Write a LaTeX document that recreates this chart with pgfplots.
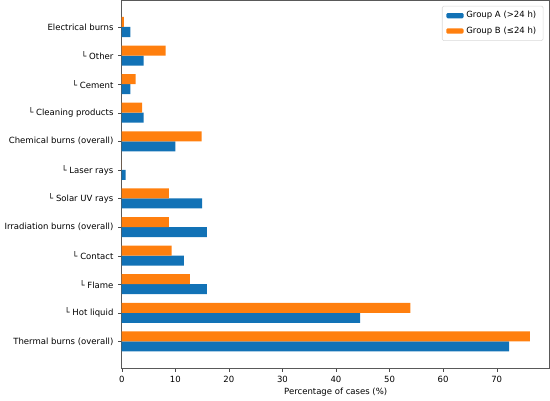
\documentclass[border=0pt]{standalone}
\usepackage{fontspec}
\setmainfont{DejaVu Sans}
\usepackage{pgfplots}
\pgfplotsset{compat=1.18}
\definecolor{cA}{RGB}{18,114,182}
\definecolor{cB}{RGB}{255,127,14}
\begin{document}
\begin{tikzpicture}
\begin{axis}[
  scale only axis,
  width=316.5pt, height=272pt,
  xbar, bar width=0.35,
  xmin=0, xmax=79.9,
  ymin=-0.935, ymax=11.935,
  ytick={0,...,11},
  yticklabels={Thermal burns (overall),{└ Hot liquid},{└ Flame},{└ Contact},Irradiation burns (overall),{└ Solar UV rays},{└ Laser rays},Chemical burns (overall),{└ Cleaning products},{└ Cement},{└ Other},Electrical burns},
  xtick={0,10,...,70},
  xtick pos=bottom, ytick pos=left,
  tick align=outside,
  major tick length=2.6pt,
  tick style={black!70},
  axis line style={black!65},
  xlabel={Percentage of cases (\%)},
  xlabel style={yshift=3pt},
  font=\fontsize{6.3}{7.5}\selectfont,
  ticklabel style={font=\fontsize{6.3}{7.5}\selectfont},
  /pgf/number format/assume math mode=true,
  legend style={at={(0.985,0.985)},anchor=north east,draw=black!15,rounded corners=1pt,font=\fontsize{6.3}{7.5}\selectfont,row sep=1pt},
  legend cell align=left,
  legend image code/.code={\path[#1,draw=none] (0cm,-0.07cm) rectangle (0.45cm,0.07cm);},
]
\addplot[fill=cA,draw=none,bar shift=-0.175] coordinates {
(72.3,0) (44.5,1) (15.9,2) (11.6,3) (15.9,4) (15.0,5) (0.75,6) (10.0,7) (4.1,8) (1.6,9) (4.1,10) (1.6,11)};
\addlegendentry{Group A (>24 h)}
\addplot[fill=cB,draw=none,bar shift=0.175] coordinates {
(76.2,0) (53.9,1) (12.7,2) (9.3,3) (8.8,4) (8.8,5) (0,6) (14.9,7) (3.8,8) (2.6,9) (8.2,10) (0.4,11)};
\addlegendentry{Group B (≤24 h)}
\end{axis}
\end{tikzpicture}
\end{document}
